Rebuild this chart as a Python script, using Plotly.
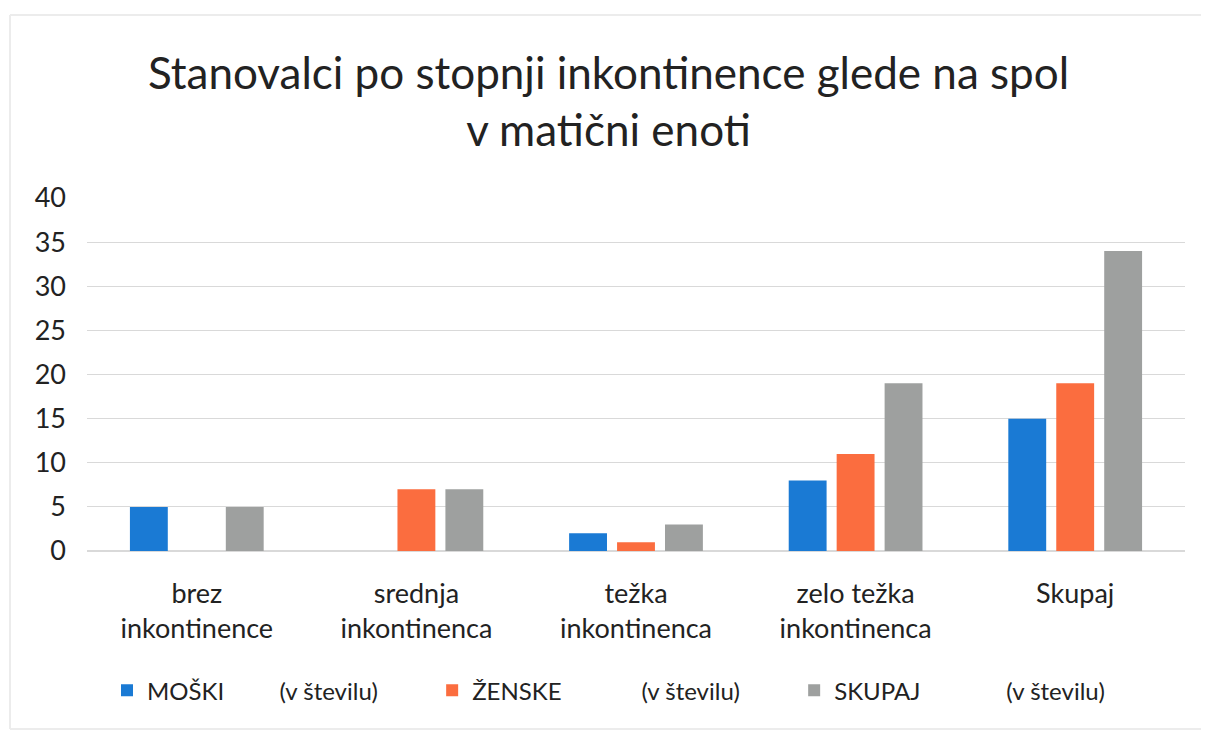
import plotly.graph_objects as go

categories = ["brez<br>inkontinence", "srednja<br>inkontinenca", "težka<br>inkontinenca",
              "zelo težka<br>inkontinenca", "Skupaj"]
moski = [5, 0, 2, 8, 15]
zenske = [0, 7, 1, 11, 19]
skupaj = [5, 7, 3, 19, 34]
NB = "\u00a0"
series_names = ["MOŠKI" + NB * 9 + "(v številu)" + NB * 8,
                "ŽENSKE" + NB * 13 + "(v številu)" + NB * 8,
                "SKUPAJ" + NB * 14 + "(v številu)"]
colors = ["#1a7ad4", "#fb6d3f", "#9ea09f"]
y_ticks = [0, 5, 10, 15, 20, 25, 30, 35, 40]

FONT = "Lato, 'Open Sans', sans-serif"

fig = go.Figure()
for name, vals, col in zip(series_names, [moski, zenske, skupaj], colors):
    fig.add_trace(go.Bar(x=categories, y=vals, name=name, marker_color=col,
                         marker_line_width=0))

fig.update_layout(
    width=1201, height=724,
    paper_bgcolor="white", plot_bgcolor="white",
    font=dict(family=FONT, color="#222222"),
    title=dict(text="Stanovalci po stopnji inkontinence glede na spol<br>v matični enoti",
               x=0.5, xanchor="center", y=0.888, yanchor="middle",
               font=dict(size=44, family=FONT, color="#222222")),
    barmode="group", bargap=0.345, bargroupgap=0.21,
    margin=dict(l=79, r=24, t=190, b=181),
    showlegend=True,
    legend=dict(orientation="h", x=0.500, xanchor="center", xref="container",
                y=0.057, yanchor="middle", yref="container",
                font=dict(size=24, family=FONT, color="#222222"),
                itemwidth=30, traceorder="normal"),
)
fig.update_yaxes(range=[0, 40], tickvals=y_ticks, showgrid=True, gridcolor="#d9d9d9",
                 gridwidth=1, zeroline=True, zerolinecolor="#d9d9d9", showline=False,
                 ticks="", tickfont=dict(size=27, family=FONT, color="#222222"),
                 ticklabelstandoff=20)
fig.update_xaxes(showline=False, ticks="", tickfont=dict(size=27, family=FONT, color="#222222"),
                 ticklabelstandoff=24)

# faint chart frame (top, left, bottom edges)
bx0 = (10 - 87) / 1098
bx1 = (1300 - 87) / 1098
by0 = -(729 - 551) / 353
by1 = 1 + (198 - 15) / 353
for (x0, y0, x1, y1) in [(bx0, by1, bx1, by1), (bx0, by0, bx0, by1), (bx0, by0, bx1, by0)]:
    fig.add_shape(type="line", xref="paper", yref="paper", x0=x0, y0=y0, x1=x1, y1=y1,
                  line=dict(color="#ececec", width=2), layer="below")

fig.write_html("out.html")
